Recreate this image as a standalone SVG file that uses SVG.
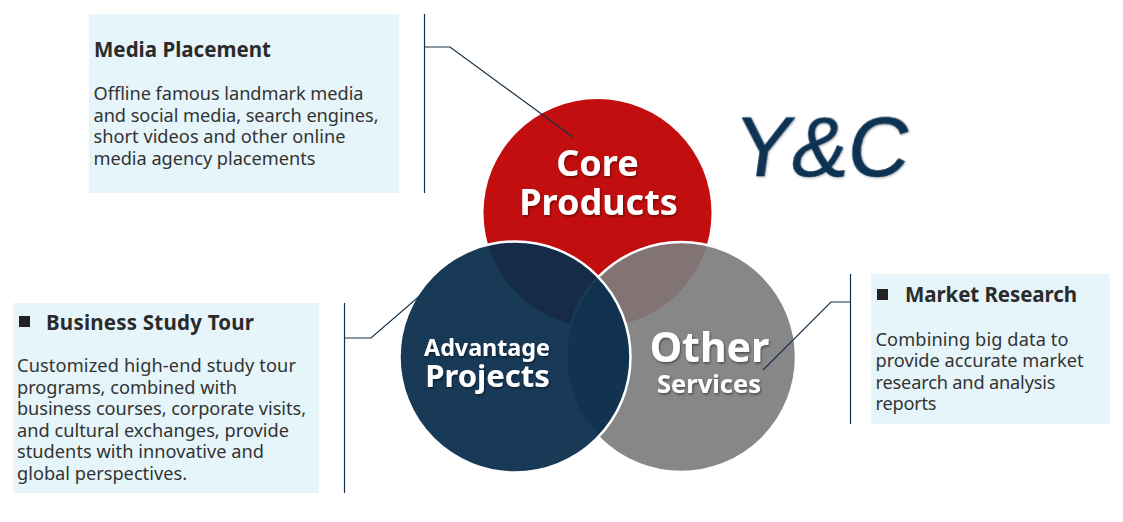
<svg xmlns="http://www.w3.org/2000/svg" width="1123" height="522" viewBox="0 0 1123 522">
<style>
.box{fill:#e6f5fa}
.h{font:bold 20.5px "Noto Sans","Open Sans",sans-serif;fill:#2b2b2b}
.b{font:18.2px "Noto Sans","Open Sans",sans-serif;fill:#333}
.c{font-family:"Noto Sans","Open Sans",sans-serif;font-weight:bold;fill:#fff;text-anchor:middle;filter:url(#ts)}
.l{fill:none;stroke:#16324a;stroke-width:1.2}
</style>
<defs>
<filter id="ts" x="-10%" y="-20%" width="120%" height="140%"><feDropShadow dx="1" dy="1.5" stdDeviation="1" flood-color="#000" flood-opacity=".45"/></filter>
<filter id="ls" x="-10%" y="-20%" width="120%" height="140%"><feDropShadow dx="1" dy="1" stdDeviation="1.2" flood-color="#000" flood-opacity=".3"/></filter>
</defs>
<g id="media-placement">
<rect class="box" x="89" y="14" width="310" height="179"/>
<text class="h" x="94" y="56.500" textLength="177">Media Placement</text>
<text class="b" x="93.500" y="99.500" textLength="270">Offline famous landmark media</text>
<text class="b" x="93.500" y="121.500" textLength="285">and social media, search engines,</text>
<text class="b" x="93.500" y="142.500" textLength="252">short videos and other online</text>
<text class="b" x="93.500" y="164.500" textLength="222">media agency placements</text>
</g>
<g id="business-study-tour">
<rect class="box" x="13" y="303" width="306" height="190"/>
<rect x="19" y="316" width="11" height="11" fill="#222"/>
<text class="h" x="46" y="329.500" textLength="208">Business Study Tour</text>
<text class="b" x="17" y="372" textLength="279">Customized high-end study tour</text>
<text class="b" x="17" y="394" textLength="220">programs, combined with</text>
<text class="b" x="17" y="415" textLength="289">business courses, corporate visits,</text>
<text class="b" x="17" y="437" textLength="272">and cultural exchanges, provide</text>
<text class="b" x="17" y="458" textLength="247">students with innovative and</text>
<text class="b" x="17" y="480" textLength="170">global perspectives.</text>
</g>
<g id="market-research">
<rect class="box" x="871" y="274" width="239" height="150"/>
<rect x="877" y="289" width="11" height="11" fill="#222"/>
<text class="h" x="905" y="302" textLength="172">Market Research</text>
<text class="b" x="875.500" y="346" textLength="193">Combining big data to</text>
<text class="b" x="875.500" y="367" textLength="208">provide accurate market</text>
<text class="b" x="875.500" y="389" textLength="180">research and analysis</text>
<text class="b" x="875.500" y="410" textLength="61">reports</text>
</g>
<g id="core-products">
<circle cx="597.500" cy="213" r="114" fill="#c20e0e"/>
</g>
<g id="other-services">
<circle cx="681" cy="357" r="115" fill="#7d7d7d" fill-opacity=".92" stroke="#fff" stroke-width="2.500"/>
</g>
<g id="advantage-projects">
<circle cx="515" cy="357" r="115.500" fill="#0a2e4d" fill-opacity=".94" stroke="#fff" stroke-width="2.500"/>
</g>
<g id="labels">
<text class="c" x="597.500" y="175.500" font-size="36">Core</text>
<text class="c" x="598.500" y="214.500" font-size="36">Products</text>
<text class="c" x="487" y="356" font-size="23.300">Advantage</text>
<text class="c" x="487.500" y="386.500" font-size="31">Projects</text>
<text class="c" x="709.500" y="362" font-size="41">Other</text>
<text class="c" x="709" y="392.500" font-size="25.500">Services</text>
</g>
<g id="connectors">
<path class="l" d="M424.500 14V193M424 47H450L573 137"/>
<path class="l" d="M344.500 303V493M344 338H371L437 281"/>
<path class="l" d="M850.500 274V424M851 302H831L763 370"/>
</g>
<g id="logo">
<text transform="translate(732 176) skewX(-8)" font-family="Liberation Sans,sans-serif" font-size="85" textLength="174" fill="#0e3352" stroke="#0e3352" stroke-width=".5" filter="url(#ls)">Y&amp;C</text>
</g>
</svg>
